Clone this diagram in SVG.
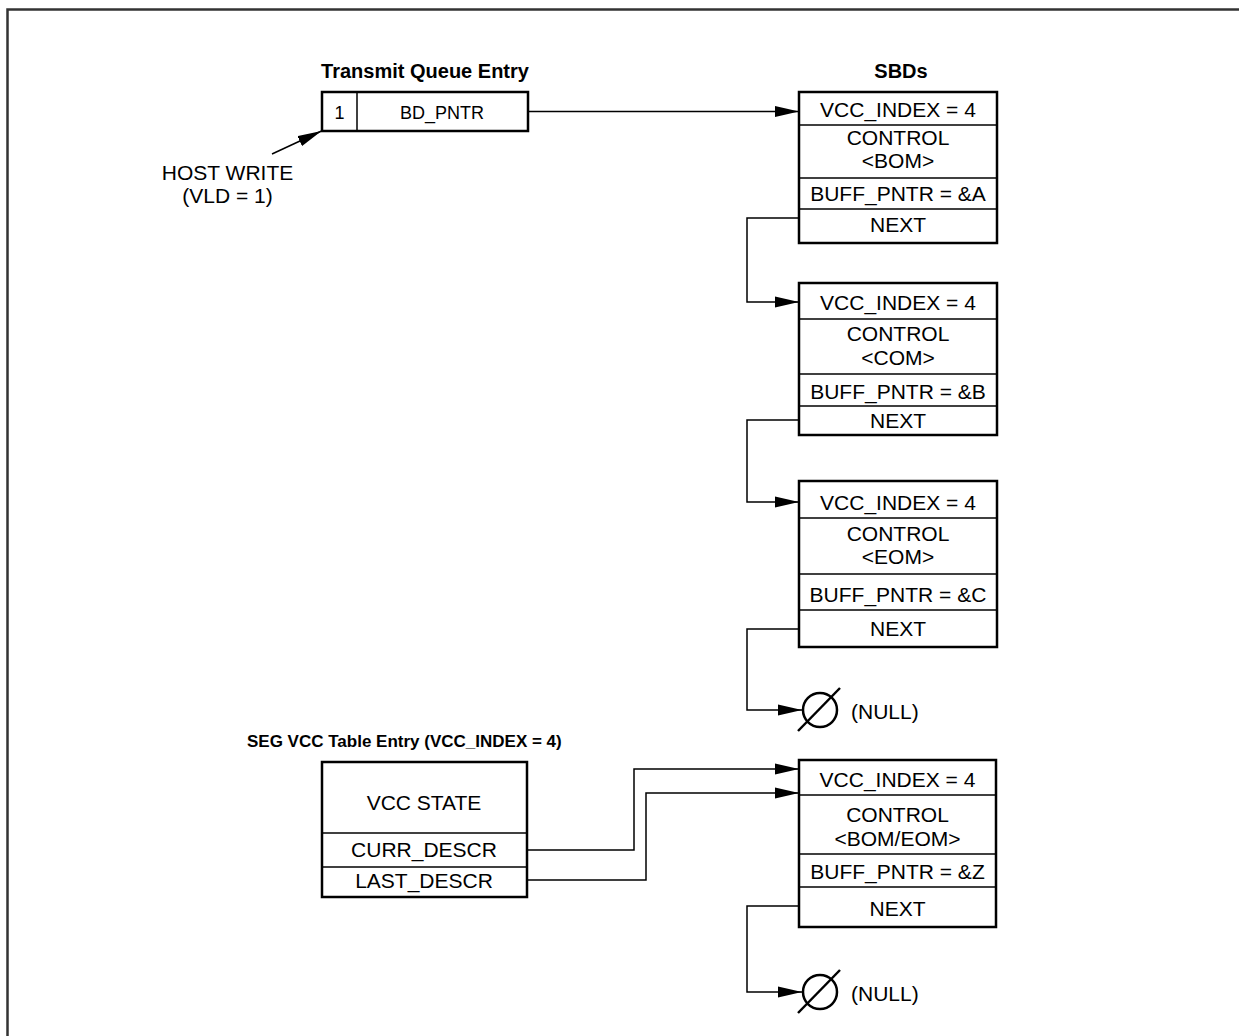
<svg xmlns="http://www.w3.org/2000/svg" width="1239" height="1036" viewBox="0 0 1239 1036">
<style>
.box{fill:#fff;stroke:#000;stroke-width:2.5}
.dv{stroke:#000;stroke-width:1.5;fill:none}
.t{font-family:"Liberation Sans",Arial,sans-serif;font-size:21px;text-anchor:middle;fill:#000}
.s{font-size:18px}
.h{font-weight:bold;font-size:20px}
.c{fill:none;stroke:#000;stroke-width:1.5}
.nl{fill:none;stroke:#000;stroke-width:2.5}
</style>
<defs>
<marker id="ah" markerUnits="userSpaceOnUse" markerWidth="24" markerHeight="12" refX="22" refY="5" orient="auto" viewBox="0 0 22 10">
<path d="M0,0 L22,5 L0,10 z" fill="#000"/>
</marker>
</defs>
<rect width="1239" height="1036" fill="#fff"/>
<path d="M7.5,1036 V9.5 H1239" fill="none" stroke="#333" stroke-width="2.5"/>

<g id="tq">
<text class="t h" x="425" y="78">Transmit Queue Entry</text>
<rect class="box" x="322" y="92" width="206" height="39"/>
<line class="dv" x1="357" y1="92" x2="357" y2="131"/>
<text class="t s" x="339.5" y="119">1</text>
<text class="t s" x="442" y="119">BD_PNTR</text>
</g>

<g id="host">
<text class="t" x="227.5" y="180">HOST WRITE</text>
<text class="t" x="227.5" y="203">(VLD = 1)</text>
</g>

<g id="sbd-title"><text class="t h" x="901" y="78">SBDs</text></g>

<g id="sbd1">
<rect class="box" x="799" y="92" width="198" height="151"/>
<line class="dv" x1="799" y1="125" x2="997" y2="125"/>
<line class="dv" x1="799" y1="178" x2="997" y2="178"/>
<line class="dv" x1="799" y1="209" x2="997" y2="209"/>
<text class="t" x="898" y="117">VCC_INDEX = 4</text>
<text class="t" x="898" y="145">CONTROL</text>
<text class="t" x="898" y="168">&lt;BOM&gt;</text>
<text class="t" x="898" y="201">BUFF_PNTR = &amp;A</text>
<text class="t" x="898" y="232">NEXT</text>
</g>

<g id="sbd2">
<rect class="box" x="799" y="283" width="198" height="152"/>
<line class="dv" x1="799" y1="319" x2="997" y2="319"/>
<line class="dv" x1="799" y1="374" x2="997" y2="374"/>
<line class="dv" x1="799" y1="406" x2="997" y2="406"/>
<text class="t" x="898" y="310">VCC_INDEX = 4</text>
<text class="t" x="898" y="341">CONTROL</text>
<text class="t" x="898" y="365">&lt;COM&gt;</text>
<text class="t" x="898" y="399">BUFF_PNTR = &amp;B</text>
<text class="t" x="898" y="428">NEXT</text>
</g>

<g id="sbd3">
<rect class="box" x="799" y="481" width="198" height="166"/>
<line class="dv" x1="799" y1="518" x2="997" y2="518"/>
<line class="dv" x1="799" y1="574" x2="997" y2="574"/>
<line class="dv" x1="799" y1="610" x2="997" y2="610"/>
<text class="t" x="898" y="510">VCC_INDEX = 4</text>
<text class="t" x="898" y="541">CONTROL</text>
<text class="t" x="898" y="564">&lt;EOM&gt;</text>
<text class="t" x="898" y="602">BUFF_PNTR = &amp;C</text>
<text class="t" x="898" y="636">NEXT</text>
</g>

<g id="null1">
<circle class="nl" cx="820" cy="710" r="17"/>
<line class="nl" x1="798" y1="731" x2="840" y2="688"/>
<text class="t" x="851" y="719" text-anchor="start" style="text-anchor:start">(NULL)</text>
</g>

<g id="vcc-title"><text class="t" x="247" y="747" style="text-anchor:start;font-weight:bold;font-size:17px">SEG VCC Table Entry (VCC_INDEX = 4)</text></g>

<g id="vcc">
<rect class="box" x="322" y="762" width="205" height="135"/>
<line class="dv" x1="322" y1="833" x2="527" y2="833"/>
<line class="dv" x1="322" y1="867" x2="527" y2="867"/>
<text class="t" x="424" y="810">VCC STATE</text>
<text class="t" x="424" y="857">CURR_DESCR</text>
<text class="t" x="424" y="888">LAST_DESCR</text>
</g>

<g id="sbd4">
<rect class="box" x="799" y="760" width="197" height="167"/>
<line class="dv" x1="799" y1="795" x2="996" y2="795"/>
<line class="dv" x1="799" y1="854" x2="996" y2="854"/>
<line class="dv" x1="799" y1="887" x2="996" y2="887"/>
<text class="t" x="897.5" y="787">VCC_INDEX = 4</text>
<text class="t" x="897.5" y="822">CONTROL</text>
<text class="t" x="897.5" y="846">&lt;BOM/EOM&gt;</text>
<text class="t" x="897.5" y="879">BUFF_PNTR = &amp;Z</text>
<text class="t" x="897.5" y="916">NEXT</text>
</g>

<g id="null2">
<circle class="nl" cx="820" cy="992" r="17"/>
<line class="nl" x1="798" y1="1013" x2="840" y2="970"/>
<text class="t" x="851" y="1001" style="text-anchor:start">(NULL)</text>
</g>

<g id="connectors">
<line class="c" x1="528" y1="111.5" x2="799" y2="111.5" marker-end="url(#ah)"/>
<line class="c" x1="272" y1="154" x2="321.5" y2="131" marker-end="url(#ah)"/>
<polyline class="c" points="799,218 747,218 747,302 799,302" marker-end="url(#ah)"/>
<polyline class="c" points="799,420 747,420 747,502 799,502" marker-end="url(#ah)"/>
<polyline class="c" points="799,629 747,629 747,710 802,710" marker-end="url(#ah)"/>
<polyline class="c" points="527,850 634,850 634,769 799,769" marker-end="url(#ah)"/>
<polyline class="c" points="527,880 646,880 646,793 799,793" marker-end="url(#ah)"/>
<polyline class="c" points="799,906 747,906 747,992 802,992" marker-end="url(#ah)"/>
</g>
</svg>
